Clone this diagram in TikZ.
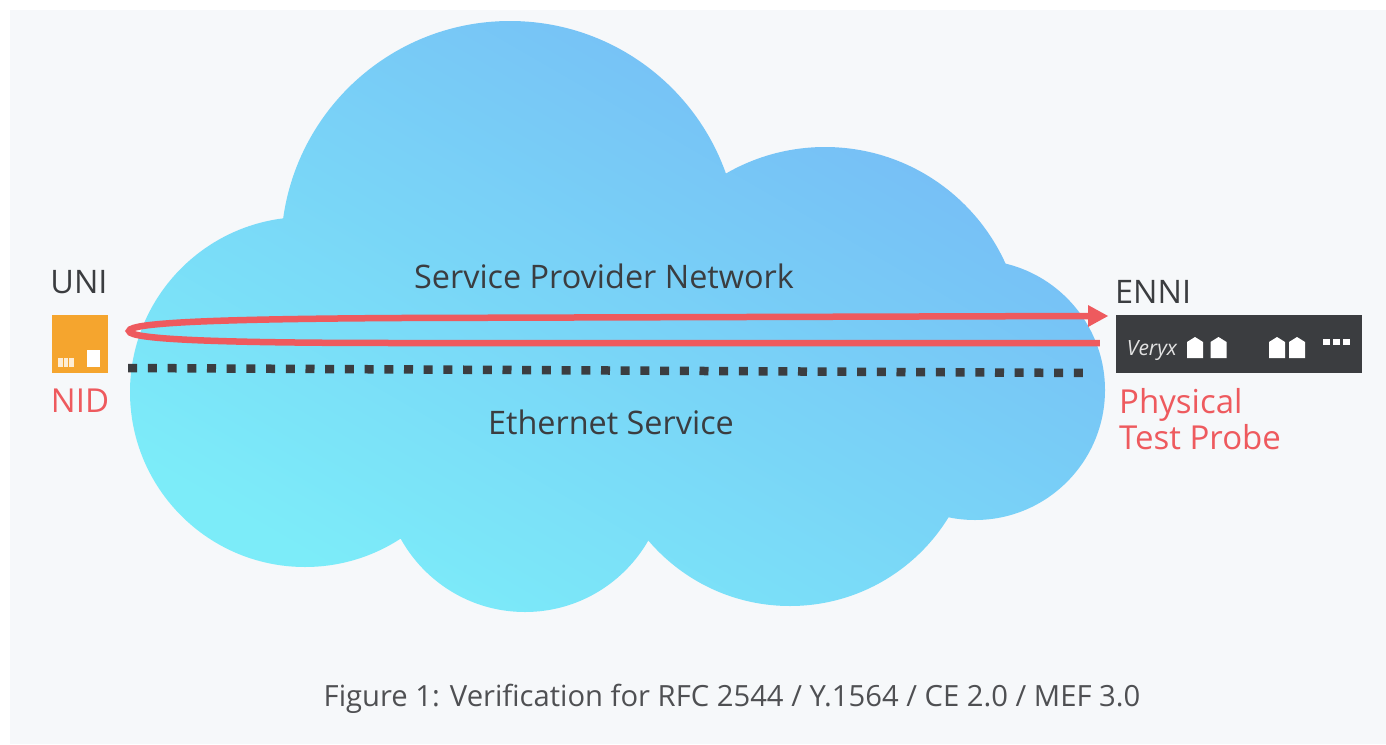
\documentclass[tikz,border=0pt]{standalone}
\usepackage{fontspec}
\setmainfont{Open Sans}
\definecolor{panelbg}{HTML}{F6F8FA}
\definecolor{cloudlow}{HTML}{7CECF9}
\definecolor{cloudhigh}{HTML}{76BAF5}
\definecolor{probered}{HTML}{EE5A5E}
\definecolor{darkgrey}{HTML}{3B3D40}
\definecolor{nidorange}{HTML}{F5A52E}
\tikzset{>=latex}
\tikzset{
    plainlabel/.style={text=darkgrey,font=\fontsize{32.4}{34}\selectfont,inner sep=0pt},
    redlabel/.style={text=probered,font=\fontsize{33}{35}\selectfont,inner sep=0pt,align=left},
    captionlabel/.style={text=darkgrey!90,font=\fontsize{29.2}{32}\selectfont,inner sep=0pt},
    loopline/.style={draw=probered,line width=6.5pt},
    serviceline/.style={draw=darkgrey,line width=8.5pt,dash pattern=on 9pt off 10.7pt}
}
\newcommand{\porticon}[1]{\fill[white] (#1-8,358) -- (#1-8,342) -- (#1,337) -- (#1+8,342) -- (#1+8,358) -- cycle;}
\begin{document}
\begin{tikzpicture}[x=1pt,y=-1pt]
    \useasboundingbox (0,0) rectangle (1386,744);
    \fill[white] (0,0) rectangle (1386,744);
    \fill[panelbg] (10,10) rectangle (1386,744);
    % cloud
    \shade[bottom color=cloudlow,top color=cloudhigh,shading angle=-30]
        (510,250) circle (229)
        (825,345) circle (198)
        (975,390) circle (130)
        (790,420) circle (186)
        (525,470) circle (142)
        (305,392) circle (175)
        (980,250) rectangle (300,480);
    \node[plainlabel] (spn) at (604,276) {Service Provider Network};
    \node[plainlabel] (eth) at (611,422) {Ethernet Service};
    % left end
    \node[fill=nidorange,minimum width=56,minimum height=58,inner sep=0pt] (nid) at (80,344) {};
    \node[plainlabel] (uni) at (79,282) {UNI};
    \node[redlabel] (nidlabel) at (80,401) {NID};
    \fill[white] (87,350) rectangle (100,367);
    \foreach \x in {58,63.5,69}
        \fill[white,opacity=.8] (\x,358) rectangle +(4.5,9);
    % right end
    \node[fill=darkgrey,minimum width=246,minimum height=58,inner sep=0pt] (probe) at (1239,344) {};
    \node[plainlabel,anchor=west] (enni) at (1115,292) {ENNI};
    \node[redlabel,anchor=north west] (probelabel) at (1119,388) {Physical\\[1pt]Test Probe};
    \node[text=white!85!darkgrey,font=\itshape\fontsize{21}{21}\selectfont,inner sep=0pt] (logo) at (1152,351) {Veryx};
    \foreach \x in {1195,1218.5,1277,1297}
        \porticon{\x}
    \foreach \x in {1323,1333,1343}
        \fill[white] (\x,339) rectangle +(7,6);
    % caption
    \node[captionlabel] (caption) at (732,699) {Figure 1: Verification for RFC 2544 / Y.1564 / CE 2.0 / MEF 3.0};
    % connectors
    \coordinate (looptip) at (129,331);
    \coordinate (looptop) at (1108,316);
    \draw[loopline,shorten <=16pt] (probe.west |- 0,343) -- (400,343) .. controls (230,343) and (129,340) .. (looptip)
        .. controls (129,322) and (230,319) .. (400,318) -- (1090,316);
    \fill[probered] (looptop) -- (1088,305) -- (1088,327) -- cycle;
    \draw[serviceline] (nid.east |- 0,368) ++(20,0) -- (1090,373);
\end{tikzpicture}
\end{document}
